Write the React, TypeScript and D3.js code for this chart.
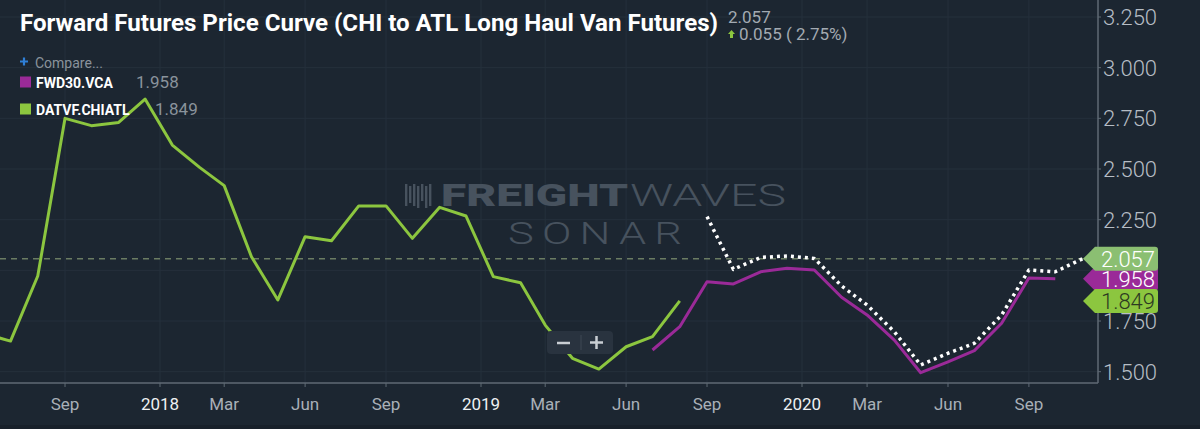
import * as d3 from 'd3';

// Forward curve (white dotted), FWD30.VCA (purple), DATVF.CHIATL (green) — monthly points
const DATVF_MONTHS = [
  '2017-06', '2017-07', '2017-08', '2017-09', '2017-10', '2017-11', '2017-12',
  '2018-01', '2018-02', '2018-03', '2018-04', '2018-05', '2018-06', '2018-07',
  '2018-08', '2018-09', '2018-10', '2018-11', '2018-12', '2019-01', '2019-02',
  '2019-03', '2019-04', '2019-05', '2019-06', '2019-07', '2019-08',
];
const DATVF_VALUES = [
  1.688, 1.651, 1.972, 2.75, 2.714, 2.73, 2.845,
  2.618, 2.508, 2.418, 2.067, 1.854, 2.166, 2.146,
  2.318, 2.318, 2.158, 2.311, 2.268, 1.969, 1.939,
  1.73, 1.566, 1.513, 1.623, 1.673, 1.849,
];

const FWD30_MONTHS = [
  '2019-07', '2019-08', '2019-09', '2019-10', '2019-11', '2019-12', '2020-01',
  '2020-02', '2020-03', '2020-04', '2020-05', '2020-06', '2020-07', '2020-08',
  '2020-09', '2020-10',
];
const FWD30_VALUES = [
  1.607, 1.722, 1.944, 1.933, 1.993, 2.01, 2.002,
  1.867, 1.78, 1.656, 1.495, 1.549, 1.604, 1.739,
  1.962, 1.958,
];

const CURVE_MONTHS = [
  '2019-09', '2019-10', '2019-11', '2019-12', '2020-01', '2020-02', '2020-03',
  '2020-04', '2020-05', '2020-06', '2020-07', '2020-08', '2020-09', '2020-10',
  '2020-11',
];
const CURVE_VALUES = [
  2.265, 2.005, 2.064, 2.071, 2.059, 1.923, 1.829,
  1.697, 1.533, 1.591, 1.64, 1.78, 2.002, 1.993,
  2.057,
];

const Y_TICKS = [1.5, 1.75, 2.0, 2.25, 2.5, 2.75, 3.0, 3.25];
const Y_LABELS = ['1.500', '1.750', '', '2.250', '2.500', '2.750', '3.000', '3.250'];
const YEAR_TICKS = ['2018-01-01', '2019-01-01', '2020-01-01'];
const MONTH_TICKS = [
  '2017-06-15', '2017-09-15', '2018-03-15', '2018-06-15', '2018-09-15',
  '2019-03-15', '2019-06-15', '2019-09-15', '2020-03-15', '2020-06-15', '2020-09-15',
];

const W = 1200;
const H = 429;
const PLOT_RIGHT = 1098;
const PLOT_BOTTOM = 383;
const BG = '#1c2631';
const GREEN = '#8cc63f';
const PURPLE = '#9a2a98';
const TAG_GREEN = '#8bbf72';
const FONT = 'Roboto, "Noto Sans", sans-serif';

const parseDay = d3.timeParse('%Y-%m-%d');
const mid = (m: string) => parseDay(m + '-15') as Date;

interface Pt { date: Date; value: number }
const toPts = (months: string[], values: number[]): Pt[] =>
  months.map((m, i) => ({ date: mid(m), value: values[i] }));

export default function App() {
  const x = d3.scaleTime()
    .domain([parseDay('2018-01-01') as Date, parseDay('2020-01-01') as Date])
    .range([160, 802]);
  const y = d3.scaleLinear().domain([1.5, 3.25]).range([371.7, 17]);

  const line = d3.line<Pt>().x(d => x(d.date)).y(d => y(d.value));

  const datvf = toPts(DATVF_MONTHS, DATVF_VALUES);
  const fwd30 = toPts(FWD30_MONTHS, FWD30_VALUES);
  const curve = toPts(CURVE_MONTHS, CURVE_VALUES);

  const yearTicks = YEAR_TICKS.map(s => parseDay(s) as Date);
  const monthTicks = MONTH_TICKS.map(s => parseDay(s) as Date);
  const fmtMonth = d3.timeFormat('%b');
  const fmtYear = d3.timeFormat('%Y');

  const lastCurve = CURVE_VALUES[CURVE_VALUES.length - 1];
  const lastFwd = FWD30_VALUES[FWD30_VALUES.length - 1];
  const lastDat = DATVF_VALUES[DATVF_VALUES.length - 1];

  const tagPath = (yc: number) => {
    const x0 = 1083;
    const h = 12;
    return `M${x0},${yc} L${x0 + 12},${yc - h} L1155,${yc - h} Q1158,${yc - h} 1158,${yc - h + 3} L1158,${yc + h - 3} Q1158,${yc + h} 1155,${yc + h} L${x0 + 12},${yc + h} Z`;
  };

  const tags = [
    { v: lastFwd, fill: PURPLE, text: '#ffffff', label: lastFwd.toFixed(3) },
    { v: lastDat, fill: GREEN, text: '#2c3a22', label: lastDat.toFixed(3) },
    { v: lastCurve, fill: TAG_GREEN, text: '#ffffff', label: lastCurve.toFixed(3) },
  ];

  const logoBars = [0, 4, 8, 12, 16, 20, 24];

  return (
    <div>
      <style>{'body{margin:0;background:' + BG + ';}'}</style>
      <svg width={W} height={H} style={{ display: 'block', background: BG }} fontFamily={FONT}>
        <defs>
          <clipPath id="plot">
            <rect x={0} y={0} width={PLOT_RIGHT} height={PLOT_BOTTOM} />
          </clipPath>
        </defs>
        <rect x={0} y={0} width={W} height={H} fill={BG} />
        <rect x={0} y={H - 4} width={W} height={4} fill="#18202a" />

        {/* grid */}
        <g stroke="#25303c" strokeWidth={1}>
          {Y_TICKS.map(t => (
            <line key={'gy' + t} x1={0} x2={PLOT_RIGHT} y1={y(t)} y2={y(t)} />
          ))}
          {[...yearTicks, ...monthTicks].map((d, i) => (
            <line key={'gx' + i} x1={x(d)} x2={x(d)} y1={0} y2={PLOT_BOTTOM} />
          ))}
        </g>

        {/* watermark */}
        <g fill="#47525e">
          {logoBars.map((b, i) => (
            <rect key={b} x={405 + b} y={i % 2 ? 186 : 184} width={2.4} height={i % 3 === 1 ? 17 : 22} />
          ))}
          <text x={441} y={206} fontSize={31} fontWeight={900} textLength={187} lengthAdjust="spacingAndGlyphs">FREIGHT</text>
          <text x={630} y={206} fontSize={31} fontWeight={300} textLength={156} lengthAdjust="spacingAndGlyphs">WAVES</text>
          <text x={508} y={244} fontSize={32} fontWeight={300} letterSpacing={6} textLength={182} lengthAdjust="spacingAndGlyphs">SONAR</text>
        </g>

        {/* reference line at last value */}
        <line x1={0} x2={1083} y1={y(lastCurve)} y2={y(lastCurve)} stroke="#6b7c63" strokeWidth={1.5} strokeDasharray="6 5" />

        <g clipPath="url(#plot)" fill="none" strokeLinejoin="round">
          <path d={line(datvf) || ''} stroke={GREEN} strokeWidth={3} />
          <path d={line(fwd30) || ''} stroke={PURPLE} strokeWidth={3} />
          <path d={line(curve) || ''} stroke="#ffffff" strokeWidth={3.5} strokeDasharray="3 4" />
        </g>

        {/* zoom control */}
        <g>
          <rect x={547} y={331} width={66} height={23} rx={4} fill="#29333f" />
          <line x1={581} x2={581} y1={335} y2={350} stroke="#3e4955" strokeWidth={1} />
          <line x1={557} x2={570} y1={343} y2={343} stroke="#c9ced3" strokeWidth={2.5} />
          <line x1={590} x2={603} y1={342.5} y2={342.5} stroke="#c9ced3" strokeWidth={2.5} />
          <line x1={596.5} x2={596.5} y1={336} y2={349} stroke="#c9ced3" strokeWidth={2.5} />
        </g>

        {/* x axis */}
        <line x1={0} x2={PLOT_RIGHT} y1={PLOT_BOTTOM} y2={PLOT_BOTTOM} stroke="#5f6a75" strokeWidth={1.5} />
        {monthTicks.map((d, i) => (
          <g key={'mt' + i} transform={`translate(${x(d)},${PLOT_BOTTOM})`}>
            <line y1={0} y2={4} stroke="#5f6a75" />
            <text y={27} textAnchor="middle" fontSize={17} fill="#a9b0b8">{fmtMonth(d)}</text>
          </g>
        ))}
        {yearTicks.map((d, i) => (
          <g key={'yt' + i} transform={`translate(${x(d)},${PLOT_BOTTOM})`}>
            <line y1={0} y2={4} stroke="#5f6a75" />
            <text y={27} textAnchor="middle" fontSize={17} fill="#eef0f2">{fmtYear(d)}</text>
          </g>
        ))}

        {/* y axis (right) */}
        <line x1={PLOT_RIGHT} x2={PLOT_RIGHT} y1={0} y2={PLOT_BOTTOM} stroke="#5f6a75" strokeWidth={1.5} />
        {Y_TICKS.map((t, i) => (
          <g key={'yl' + t} transform={`translate(${PLOT_RIGHT},${y(t)})`}>
            <line x1={0} x2={3} stroke="#5f6a75" />
            <text x={5} dy="0.36em" fontSize={22} fontWeight={300} fill="#b6bdc5">{Y_LABELS[i]}</text>
          </g>
        ))}

        {/* last value tags */}
        {tags.map(t => (
          <g key={t.label}>
            <path d={tagPath(y(t.v))} fill={t.fill} />
            <text x={1155} y={y(t.v)} dy="0.36em" textAnchor="end" fontSize={22} fontWeight={300} fill={t.text}>{t.label}</text>
          </g>
        ))}

        {/* title and header */}
        <text x={20} y={31} fontSize={24} fontWeight={700} fill="#ffffff" textLength={698} lengthAdjust="spacingAndGlyphs">
          Forward Futures Price Curve (CHI to ATL Long Haul Van Futures)
        </text>
        <text x={728} y={23} fontSize={17} fill="#a3aab2">{lastCurve.toFixed(3)}</text>
        <path d="M731.5,30 L735,34 L733,34 L733,38 L730,38 L730,34 L728,34 Z" fill={GREEN} />
        <text x={739} y={40} fontSize={17} fill="#a3aab2">0.055 ( 2.75%)</text>

        {/* legend */}
        <path d="M20,61.5 H28 M24,57.5 V65.5" stroke="#2f7fd6" strokeWidth={2.2} />
        <text x={35} y={68} fontSize={14} fill="#8a939c">Compare...</text>
        <rect x={20} y={76.5} width={11} height={11} fill={PURPLE} />
        <text x={36} y={87.5} fontSize={14} fontWeight={700} fill="#ffffff">FWD30.VCA</text>
        <text x={136} y={88} fontSize={17} fill="#8a939c">{lastFwd.toFixed(3)}</text>
        <rect x={20} y={103.5} width={11} height={11} fill={GREEN} />
        <text x={36} y={114.5} fontSize={14} fontWeight={700} fill="#ffffff">DATVF.CHIATL</text>
        <text x={155} y={115} fontSize={17} fill="#8a939c">{lastDat.toFixed(3)}</text>
      </svg>
    </div>
  );
}
